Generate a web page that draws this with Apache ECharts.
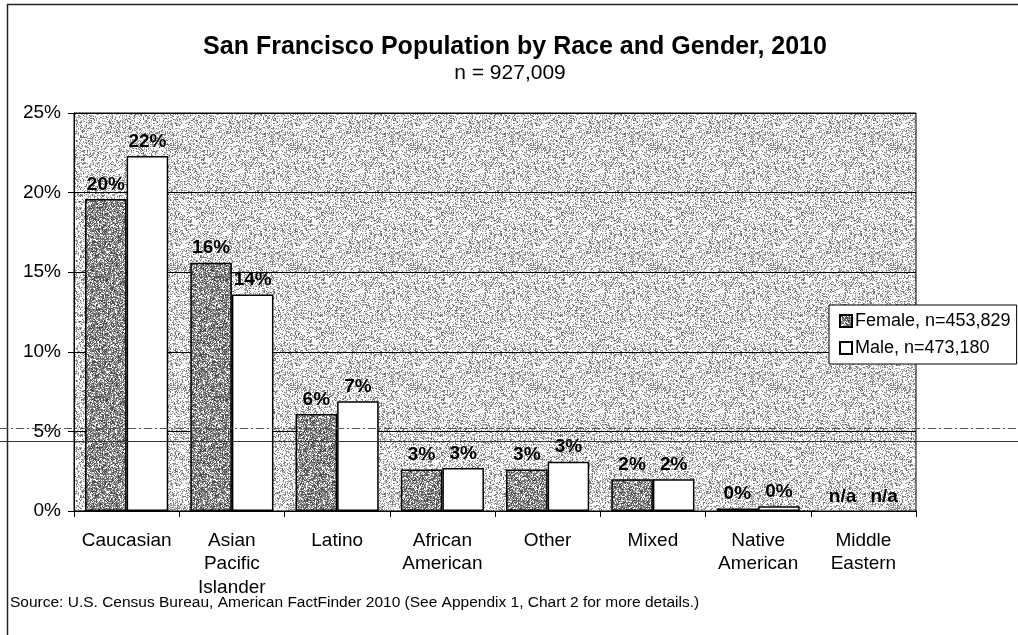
<!DOCTYPE html>
<html>
<head>
<meta charset="utf-8">
<script src="https://cdn.jsdelivr.net/npm/echarts@6/dist/echarts.min.js"></script>
<style>
html,body{margin:0;padding:0;background:#fff;}
#chart{width:1018px;height:635px;}
</style>
</head>
<body>
<div id="chart"></div>
<script>
const categories = ['Caucasian', 'Asian\nPacific\nIslander', 'Latino', 'African\nAmerican', 'Other', 'Mixed', 'Native\nAmerican', 'Middle\nEastern'];
const femaleValues = [19.6, 15.6, 6.1, 2.6, 2.6, 2.0, 0.15, null];
const maleValues = [22.3, 13.6, 6.9, 2.7, 3.1, 2.0, 0.3, null];
const yTicks = [0, 5, 10, 15, 20, 25];
const seriesNames = ['Female, n=453,829', 'Male, n=473,180'];
const titleText = 'San Francisco Population by Race and Gender, 2010';
const subtitleText = 'n = 927,009';
const sourceText = 'Source: U.S. Census Bureau, American FactFinder 2010 (See Appendix 1, Chart 2 for more details.)';

const FONT = '"Liberation Sans", Arial, Helvetica, sans-serif';

// deterministic stipple texture (styling only)
function makePattern(whiteProb, grayLo, grayHi, seed) {
  const N = 120;
  const c = document.createElement('canvas');
  c.width = N; c.height = N;
  const ctx = c.getContext('2d');
  const img = ctx.createImageData(N, N);
  let s = seed;
  function rnd() { s = (s * 1103515245 + 12345) & 0x7fffffff; return (s >> 8) / 8388608; }
  for (let i = 0; i < N * N; i++) {
    const v = rnd() < whiteProb ? 255 : Math.round(grayLo + (grayHi - grayLo) * rnd());
    img.data[i * 4] = v; img.data[i * 4 + 1] = v; img.data[i * 4 + 2] = v; img.data[i * 4 + 3] = 255;
  }
  ctx.putImageData(img, 0, 0);
  return { image: c, repeat: 'repeat' };
}
const bgPattern = makePattern(0.58, 100, 215, 12345);
const femalePattern = makePattern(0.22, 55, 185, 777);

function toData(arr) {
  return arr.map(v => v === null
    ? { value: 0, itemStyle: { color: 'rgba(0,0,0,0)', borderWidth: 0 }, label: { formatter: 'n/a' } }
    : v);
}

const chart = echarts.init(document.getElementById('chart'), null, { renderer: 'canvas' });
const labelStyle = {
  show: true, position: 'top', distance: 5, color: '#000',
  fontFamily: FONT, fontWeight: 'bold', fontSize: 19, textBorderWidth: 0,
  formatter: p => Math.round(p.value) + '%'
};
chart.setOption({
  animation: false,
  backgroundColor: '#fff',
  textStyle: { fontFamily: FONT, color: '#000' },
  grid: {
    left: 74, right: 102, top: 113, bottom: 124,
    show: true, backgroundColor: bgPattern, borderColor: '#000', borderWidth: 1
  },
  legend: {
    orient: 'vertical', left: 829, top: 305,
    backgroundColor: '#fff', borderColor: '#000', borderWidth: 1,
    padding: [7, 6, 7, 10], itemGap: 9, itemWidth: 12, itemHeight: 12,
    icon: 'rect',
    textStyle: { fontFamily: FONT, fontSize: 18, color: '#000', padding: [0, 0, 0, -2] },
    data: seriesNames
  },
  xAxis: {
    type: 'category', data: categories,
    axisLine: { lineStyle: { color: '#000', width: 1 } },
    axisTick: { show: true, length: 6, lineStyle: { color: '#000' } },
    axisLabel: { fontFamily: FONT, fontSize: 19, color: '#000', lineHeight: 23.5, margin: 18, interval: 0 }
  },
  yAxis: {
    type: 'value', min: yTicks[0], max: yTicks[yTicks.length - 1], interval: yTicks[1] - yTicks[0],
    axisLine: { show: true, lineStyle: { color: '#000', width: 1 } },
    axisTick: { show: true, length: 6, lineStyle: { color: '#000' } },
    axisLabel: { fontFamily: FONT, fontSize: 19, color: '#000', margin: 13, formatter: '{value}%' },
    splitLine: { show: true, lineStyle: { color: '#000', width: 1 } }
  },
  series: [
    {
      name: seriesNames[0], type: 'bar', data: toData(femaleValues),
      barGap: '0%', barCategoryGap: '21%',
      itemStyle: { color: femalePattern, borderColor: '#000', borderWidth: 1.5 },
      label: labelStyle
    },
    {
      name: seriesNames[1], type: 'bar', data: toData(maleValues),
      barGap: '0%', barCategoryGap: '21%',
      itemStyle: { color: '#fff', borderColor: '#000', borderWidth: 1.5 },
      label: labelStyle
    }
  ],
  graphic: [
    { type: 'text', x: 515, y: 35, style: { text: titleText, textAlign: 'center', fontFamily: FONT, fontWeight: 'bold', fontSize: 25, fill: '#000' } },
    { type: 'text', x: 510, y: 63, style: { text: subtitleText, textAlign: 'center', fontFamily: FONT, fontSize: 21, fill: '#000' } },
    { type: 'text', x: 10, y: 595, style: { text: sourceText, textAlign: 'left', fontFamily: FONT, fontSize: 15.5, fill: '#000' } },
    { type: 'line', shape: { x1: 7.5, y1: 4, x2: 7.5, y2: 635 }, style: { stroke: '#222', lineWidth: 1.5 } },
    { type: 'line', shape: { x1: 7, y1: 4.5, x2: 1018, y2: 4.5 }, style: { stroke: '#222', lineWidth: 1.5 } },
    { type: 'line', z: 100, shape: { x1: 0, y1: 441.5, x2: 1018, y2: 441.5 }, style: { stroke: '#333', lineWidth: 1 } },
    { type: 'line', z: 100, shape: { x1: 0, y1: 428.5, x2: 1018, y2: 428.5 }, style: { stroke: '#555', lineWidth: 1, lineDash: [8, 3, 2, 3] } }
  ]
});
</script>
</body>
</html>
